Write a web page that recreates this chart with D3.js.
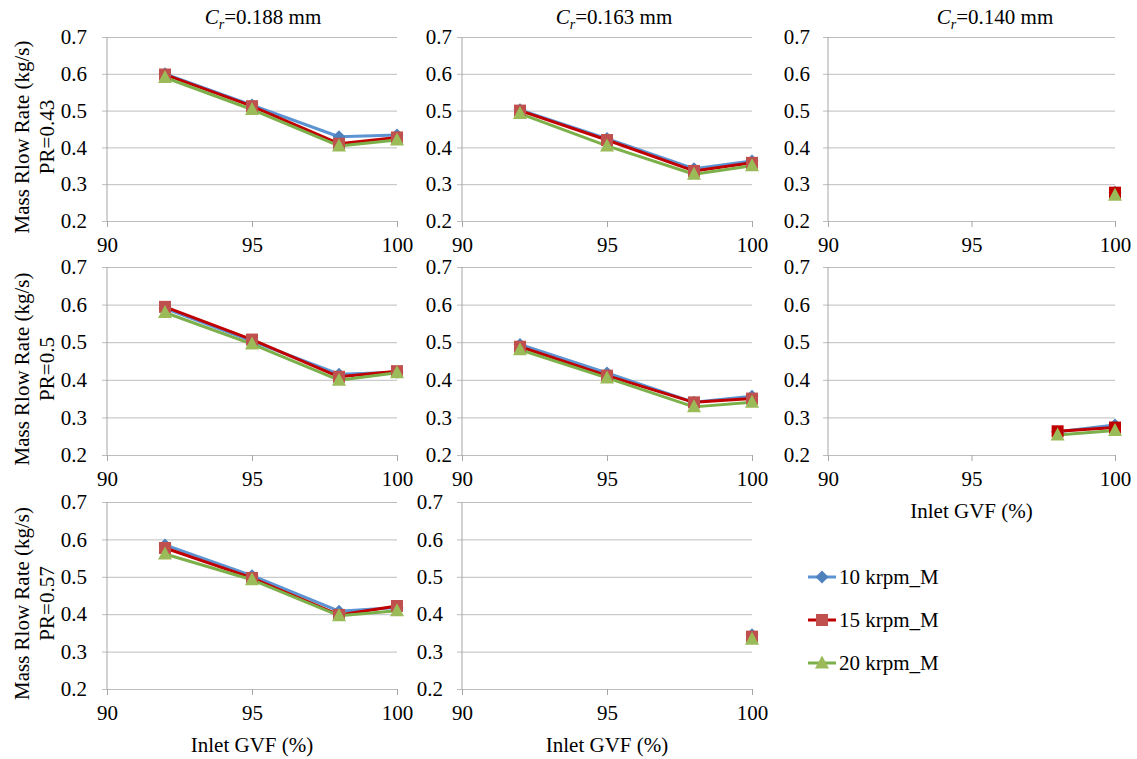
<!DOCTYPE html>
<html>
<head>
<meta charset="utf-8">
<script src="https://cdn.jsdelivr.net/npm/d3@7"></script>
<style>
  html, body { margin: 0; padding: 0; background: #fff; }
  svg { display: block; }
  svg text { font-family: "Liberation Serif", Tinos, "Times New Roman", Times, "DejaVu Serif", serif; fill: #000; }
</style>
</head>
<body>
<svg id="chart" width="1137" height="759"></svg>
<script>
// Inlet GVF (%) at which the mass flow rate was measured
const gvf = [92, 95, 98, 100];
const seriesNames = ["10 krpm_M", "15 krpm_M", "20 krpm_M"];
const clearanceTitles = ["0.188 mm", "0.163 mm", "0.140 mm"];
const prLabels = ["PR=0.43", "PR=0.5", "PR=0.57"];
const xTicks = [90, 95, 100];
const yTicks = [0.2, 0.3, 0.4, 0.5, 0.6, 0.7];

// Mass flow rate (kg/s), one row per speed: 10, 15, 20 krpm
// PR = 0.43
const pr043_cr188 = [[0.600, 0.515, 0.429, 0.434], [0.598, 0.512, 0.410, 0.427], [0.590, 0.503, 0.404, 0.420]];
const pr043_cr163 = [[0.502, 0.424, 0.342, 0.363], [0.500, 0.420, 0.336, 0.358], [0.492, 0.404, 0.327, 0.350]];
const pr043_cr140 = [[null, null, null, 0.278], [null, null, null, 0.277], [null, null, null, 0.270]];
// PR = 0.5
const pr050_cr188 = [[0.590, 0.503, 0.415, 0.420], [0.594, 0.507, 0.408, 0.423], [0.579, 0.495, 0.399, 0.419]];
const pr050_cr163 = [[0.494, 0.418, 0.340, 0.356], [0.488, 0.411, 0.340, 0.350], [0.480, 0.405, 0.328, 0.340]];
const pr050_cr140 = [[null, null, 0.262, 0.280], [null, null, 0.263, 0.273], [null, null, 0.253, 0.265]];
// PR = 0.57
const pr057_cr188 = [[0.585, 0.503, 0.408, 0.418], [0.577, 0.497, 0.398, 0.422], [0.561, 0.492, 0.396, 0.409]];
const pr057_cr163 = [[null, null, null, 0.345], [null, null, null, 0.340], [null, null, null, 0.333]];

// ---- layout & styling ----
const svg = d3.select("#chart");
const rowsY = [[37, 221], [267, 455], [502, 689]];
const colsX = [[107, 397], [462, 752], [828, 1115]];
const FONT = 21;
const SERIF = '"Liberation Serif", Tinos, "Times New Roman", Times, "DejaVu Serif", serif';

const lineColors = ["#5b93d3", "#c00000", "#7cb04a"];
const markerColors = ["#4f81bd", "#c0504d", "#9bbb59"];
const markerShapes = ["diamond", "square", "triangle"];

const panels = [
  { row: 0, col: 0, data: pr043_cr188, labelGap: 20, ylab: true, title: true },
  { row: 0, col: 1, data: pr043_cr163, labelGap: 10, title: true },
  { row: 0, col: 2, data: pr043_cr140, labelGap: 18, title: true, darkSquares: true },
  { row: 1, col: 0, data: pr050_cr188, labelGap: 20, ylab: true },
  { row: 1, col: 1, data: pr050_cr163, labelGap: 10 },
  { row: 1, col: 2, data: pr050_cr140, labelGap: 18, xTitle: true, darkSquares: true },
  { row: 2, col: 0, data: pr057_cr188, labelGap: 20, ylab: true, xTitle: true },
  { row: 2, col: 1, data: pr057_cr163, labelGap: 19, xTitle: true }
];

function markerPath(shape) {
  if (shape === "diamond") return "M0,-6.5L6.5,0L0,6.5L-6.5,0Z";
  if (shape === "square") return "M-6,-6H6V6H-6Z";
  return "M0,-7.5L7,5.5L-7,5.5Z";
}

function styleText(sel) {
  sel.attr("font-size", FONT).attr("font-family", SERIF).attr("fill", "#000");
}

panels.forEach(p => {
  const [x0, x1] = colsX[p.col];
  const [yt, yb] = rowsY[p.row];
  const x = d3.scaleLinear().domain([90, 100]).range([x0, x1]);
  const y = d3.scaleLinear().domain([0.2, 0.7]).range([yb, yt]);
  const g = svg.append("g");

  // horizontal gridlines with short ticks left of the axis, plus tick labels
  const yAxis = d3.axisLeft(y).tickValues(yTicks).tickFormat(d3.format(".1f"))
    .tickSize(-(x1 - x0 + 5)).tickPadding(p.labelGap - 5);
  const ya = g.append("g").attr("transform", `translate(${x0 - 5},0)`).call(yAxis)
    .attr("font-family", SERIF);
  ya.select(".domain").remove();
  ya.selectAll(".tick line").attr("stroke", "#bdbdbd").attr("stroke-width", 1);
  styleText(ya.selectAll(".tick text"));

  // x axis ticks and labels
  const xAxis = d3.axisBottom(x).tickValues(xTicks).tickFormat(d3.format("d"))
    .tickSize(6).tickPadding(10);
  const xa = g.append("g").attr("transform", `translate(0,${yb})`).call(xAxis)
    .attr("font-family", SERIF);
  xa.select(".domain").remove();
  xa.selectAll(".tick line").attr("stroke", "#a6a6a6");
  styleText(xa.selectAll(".tick text"));

  // vertical value axis at GVF = 90
  g.append("line").attr("x1", x(90)).attr("x2", x(90)).attr("y1", y(0.7)).attr("y2", y(0.2))
    .attr("stroke", "#a6a6a6").attr("stroke-width", 1);

  // series lines
  const line = d3.line()
    .defined(d => d.v !== null)
    .x(d => x(d.gvf)).y(d => y(d.v));
  p.data.forEach((vals, si) => {
    const pts = gvf.map((gv, i) => ({ gvf: gv, v: vals[i] }));
    g.append("path").datum(pts).attr("d", line)
      .attr("fill", "none").attr("stroke", lineColors[si]).attr("stroke-width", 3)
      .attr("stroke-linejoin", "round");
  });
  // markers on top, in series order
  p.data.forEach((vals, si) => {
    const pts = gvf.map((gv, i) => ({ gvf: gv, v: vals[i] })).filter(d => d.v !== null);
    const fill = (si === 1 && p.darkSquares) ? "#c00000" : markerColors[si];
    g.selectAll(null).data(pts).enter().append("path")
      .attr("d", markerPath(markerShapes[si]))
      .attr("transform", d => `translate(${x(d.gvf)},${y(d.v)})`)
      .attr("fill", fill);
  });

  // column titles
  if (p.title) {
    const tx = [263, 614, 995][p.col];
    const t = svg.append("text").attr("x", tx).attr("y", 24).attr("text-anchor", "middle");
    styleText(t);
    t.append("tspan").attr("font-style", "italic").text("C");
    t.append("tspan").attr("font-style", "italic").attr("font-size", 14).attr("dy", 5).text("r");
    t.append("tspan").attr("dy", -5).text("=" + clearanceTitles[p.col]);
  }

  // row labels
  if (p.ylab) {
    const cy = (yt + yb) / 2 + 8;
    styleText(svg.append("text").attr("transform", `translate(29,${cy}) rotate(-90)`)
      .attr("text-anchor", "middle").text("Mass Rlow Rate (kg/s)"));
    styleText(svg.append("text").attr("transform", `translate(54,${cy}) rotate(-90)`)
      .attr("text-anchor", "middle").text(prLabels[p.row]));
  }

  // x axis title
  if (p.xTitle) {
    styleText(svg.append("text").attr("x", (x0 + x1) / 2).attr("y", yb + 63)
      .attr("text-anchor", "middle").text("Inlet GVF (%)"));
  }
});

// legend
const legend = svg.append("g");
const legendY = [577, 620, 663];
seriesNames.forEach((name, i) => {
  const ly = legendY[i];
  legend.append("line").attr("x1", 808).attr("x2", 836).attr("y1", ly).attr("y2", ly)
    .attr("stroke", lineColors[i]).attr("stroke-width", 3);
  legend.append("path").attr("d", markerPath(markerShapes[i]))
    .attr("transform", `translate(822,${ly})`).attr("fill", markerColors[i]);
  styleText(legend.append("text").attr("x", 839).attr("y", ly + 7).text(name));
});
</script>
</body>
</html>
